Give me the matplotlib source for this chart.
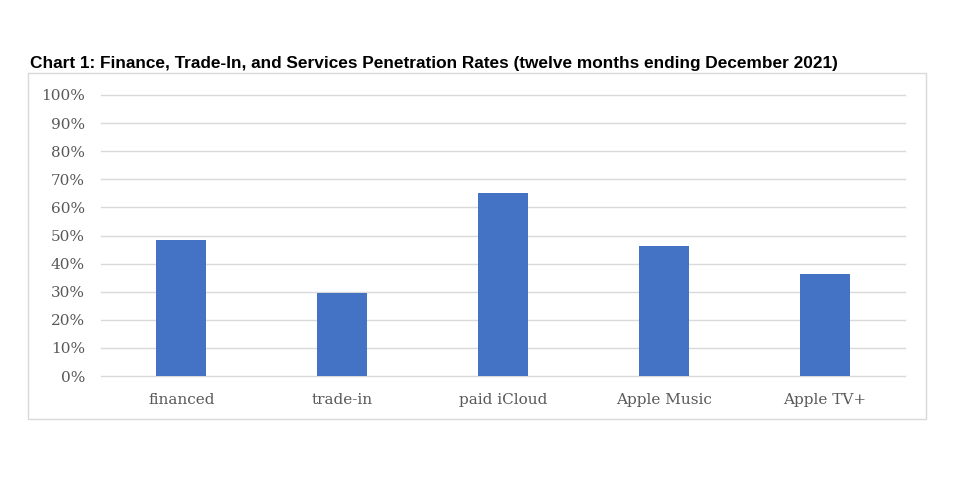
import matplotlib
matplotlib.use("Agg")
import matplotlib.pyplot as plt
from matplotlib.patches import Rectangle
from matplotlib.ticker import MultipleLocator, FuncFormatter

categories = ["financed", "trade-in", "paid iCloud", "Apple Music", "Apple TV+"]
values = [48.5, 29.4, 65.2, 46.4, 36.2]
title = "Chart 1: Finance, Trade-In, and Services Penetration Rates (twelve months ending December 2021)"

W, H = 960, 480
fig = plt.figure(figsize=(9.6, 4.8), dpi=100)
fig.patch.set_facecolor("white")

# outer frame
fig.patches.append(Rectangle((28 / W, 1 - 419 / H), (926 - 28) / W, (419 - 73) / H,
                             transform=fig.transFigure, fill=False,
                             edgecolor="#d9d9d9", linewidth=1.0))

ax = fig.add_axes([101 / W, 1 - 376 / H, (905 - 101) / W, (376 - 95) / H])
x = list(range(len(categories)))
ax.bar(x, values, width=0.31, color="#4472c4", zorder=3)
ax.set_xlim(-0.5, len(categories) - 0.5)
ax.set_ylim(0, 100)
ax.yaxis.set_major_locator(MultipleLocator(10))
ax.yaxis.set_major_formatter(FuncFormatter(lambda v, p: f"{int(round(v))}%"))
ax.grid(axis="y", color="#d9d9d9", linewidth=1.0, zorder=0)
for gl in ax.get_ygridlines():
    gl.set_clip_on(False)
for s in ax.spines.values():
    s.set_visible(False)
ax.tick_params(axis="both", length=0, colors="#595959")
ax.tick_params(axis="y", pad=11.5)
ax.tick_params(axis="x", pad=12)
ax.set_xticks(x)
ax.set_xticklabels(categories)
for lab in ax.get_xticklabels() + ax.get_yticklabels():
    lab.set_fontfamily(["DejaVu Serif"])
    lab.set_fontsize(11)
    lab.set_color("#595959")

fig.text(30 / W, 1 - 68 / H, title, ha="left", va="baseline",
         fontsize=12.4, fontweight="bold", color="black",
         family=["Liberation Sans", "DejaVu Sans"])

fig.savefig("out.png", dpi=100)
